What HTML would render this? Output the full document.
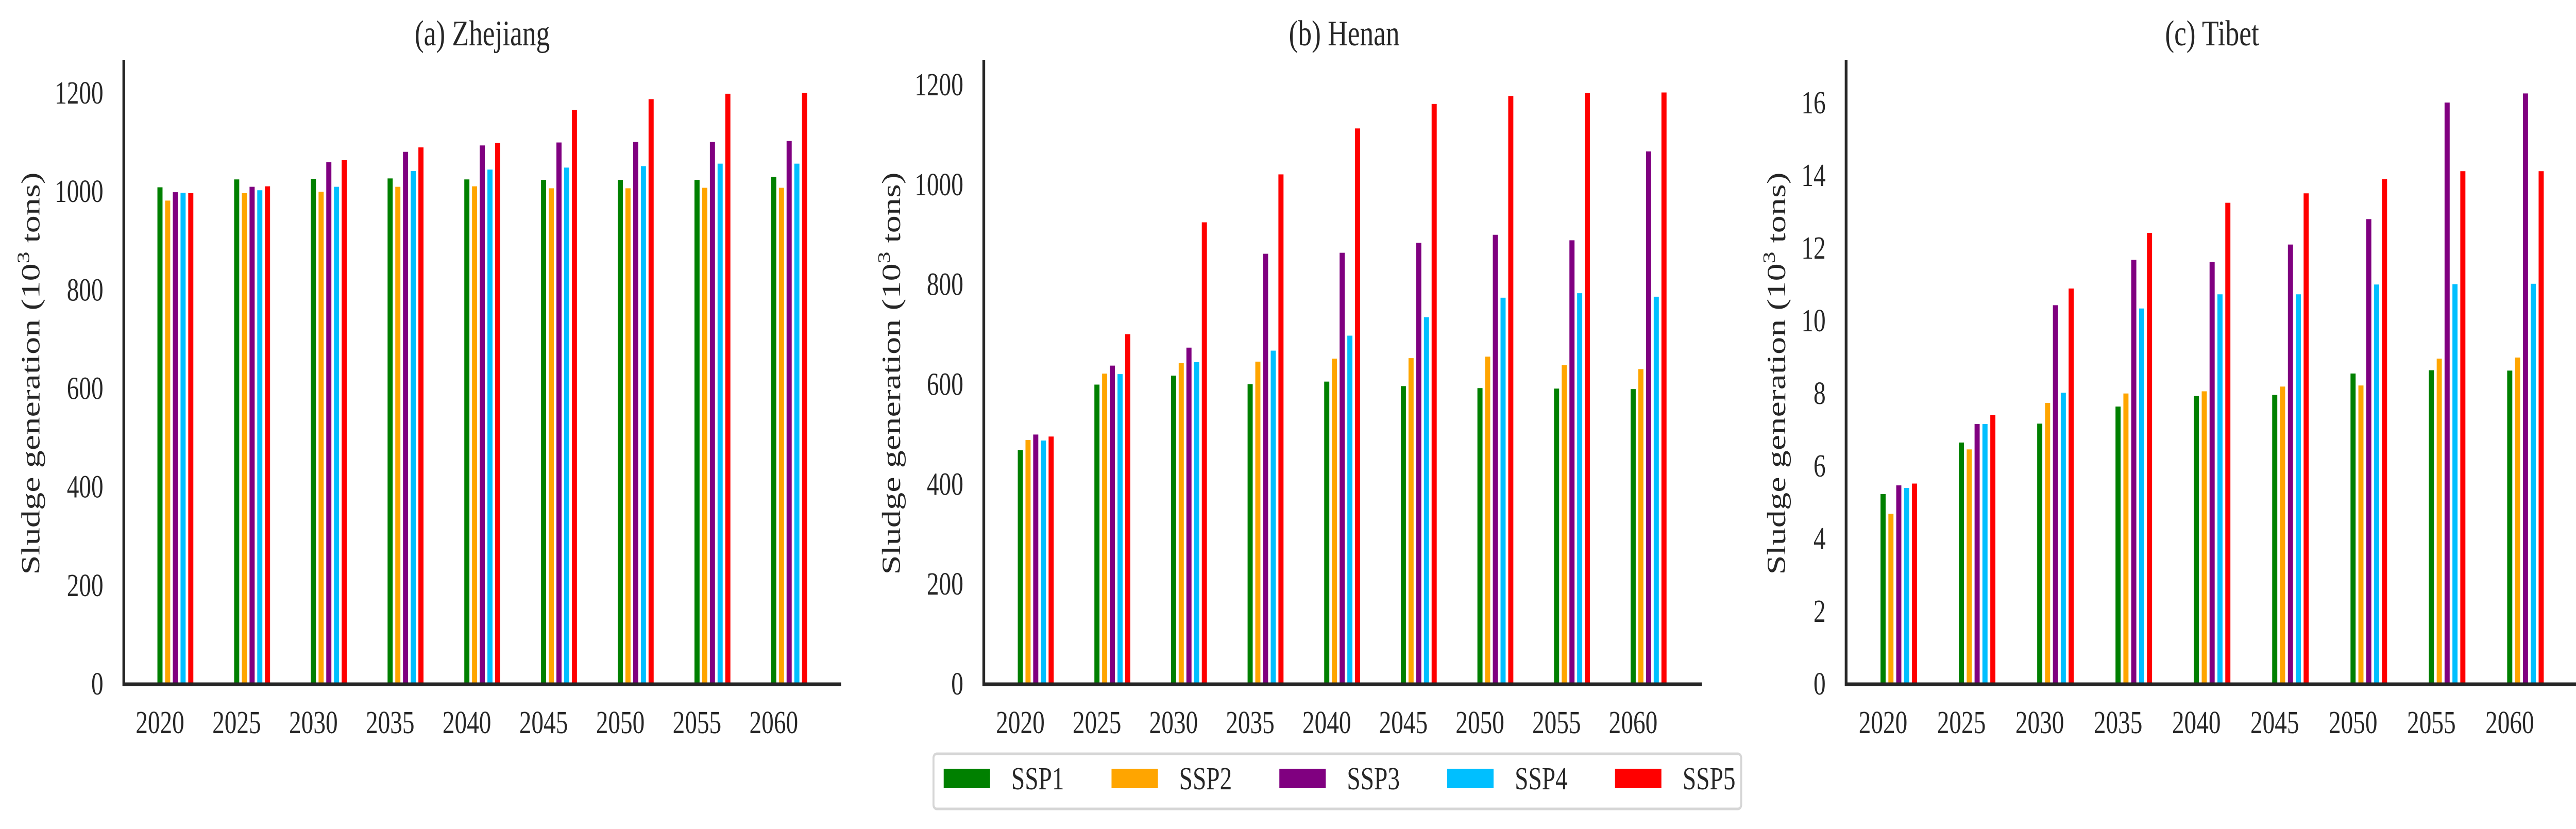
<!DOCTYPE html>
<html><head><meta charset="utf-8"><style>
html,body{margin:0;padding:0;background:#fff;width:100%;height:100%;overflow:hidden;}
svg{display:block;width:100vw;height:100vh;font-family:"Liberation Serif","DejaVu Serif",serif;}
</style></head><body>
<svg id="chart" viewBox="0 0 6554 1609" preserveAspectRatio="none" xmlns="http://www.w3.org/2000/svg"></svg>
<script>
const years = ["2020","2025","2030","2035","2040","2045","2050","2055","2060"];
const seriesNames = ["SSP1","SSP2","SSP3","SSP4","SSP5"];
const seriesColors = ["#008000","#ffa500","#800080","#00bfff","#ff0000"];
const zhejiangSSP1 = [1008,1024,1025,1026,1024,1023,1023,1023,1029];
const zhejiangSSP2 = [981,996,999,1009,1010,1006,1006,1007,1007];
const zhejiangSSP3 = [998,1009,1059,1080,1093,1099,1100,1100,1102];
const zhejiangSSP4 = [997,1002,1009,1041,1044,1048,1051,1056,1056];
const zhejiangSSP5 = [996,1010,1063,1089,1098,1165,1187,1198,1200];
const henanSSP1 = [468,599,617,600,605,596,592,591,590];
const henanSSP2 = [488,621,642,645,651,652,655,638,630];
const henanSSP3 = [499,637,673,861,863,883,899,888,1066];
const henanSSP4 = [487,620,644,667,697,734,773,782,775];
const henanSSP5 = [495,700,924,1020,1112,1161,1177,1183,1184];
const tibetSSP1 = [5.22,6.64,7.16,7.63,7.92,7.95,8.54,8.63,8.62];
const tibetSSP2 = [4.68,6.45,7.73,7.99,8.05,8.18,8.21,8.95,8.98];
const tibetSSP3 = [5.46,7.15,10.42,11.67,11.61,12.09,12.79,16.0,16.25];
const tibetSSP4 = [5.39,7.15,8.01,10.33,10.72,10.72,10.99,11.0,11.01];
const tibetSSP5 = [5.51,7.40,10.88,12.41,13.24,13.50,13.89,14.11,14.11];
const zhejiangTicks = [0,200,400,600,800,1000,1200];
const henanTicks = [0,200,400,600,800,1000,1200];
const tibetTicks = [0,2,4,6,8,10,12,14,16];

const NS="http://www.w3.org/2000/svg";
const svg=document.getElementById('chart');
function mk(tag,attrs,parent){const e=document.createElementNS(NS,tag);for(const k in attrs)e.setAttribute(k,attrs[k]);(parent||svg).appendChild(e);return e;}

const panels=[
 {key:"zhejiang",title:"(a) Zhejiang",series:[zhejiangSSP1,zhejiangSSP2,zhejiangSSP3,zhejiangSSP4,zhejiangSSP5],ticks:zhejiangTicks,ymax:1200,yTopPx:180,axisX:315,right:2140,x0:407,step:195.2,off:19.6,bw:13,ylabX:77,titleX:1227},
 {key:"henan",title:"(b) Henan",series:[henanSSP1,henanSSP2,henanSSP3,henanSSP4,henanSSP5],ticks:henanTicks,ymax:1200,yTopPx:164,axisX:2503,right:4330,x0:2596,step:194.9,off:19.6,bw:13,ylabX:2267,titleX:3420},
 {key:"tibet",title:"(c) Tibet",series:[tibetSSP1,tibetSSP2,tibetSSP3,tibetSSP4,tibetSSP5],ticks:tibetTicks,ymax:16,yTopPx:199,axisX:4697,right:6554,x0:4791,step:199.3,off:20,bw:13,ylabX:4519,titleX:5628}
];
const base=1327;
panels.forEach(p=>{
  const g=mk('g',{});
  
  
  const yScale=v=>base-(v/p.ymax)*(base-p.yTopPx);
  const xScale=(i,s)=>p.x0+i*p.step+s*p.off;
  p.series.forEach((arr,s)=>{
    arr.forEach((v,i)=>{
      const r=mk('rect',{x:xScale(i,s)-p.bw/2,y:yScale(v),width:p.bw,height:base-yScale(v),fill:seriesColors[s]},g);
      
      
    });
  });
  const ya=mk('line',{x1:p.axisX,y1:116,x2:p.axisX,y2:base+4,stroke:'#262626','stroke-width':7},g);
  
  
  const xa=mk('line',{x1:p.axisX-3,y1:base+1,x2:p.right,y2:base+1,stroke:'#262626','stroke-width':7},g);
  
  
  p.ticks.forEach(t=>{
    const tx=mk('text',{x:p.axisX-52,y:yScale(t)+21,'text-anchor':'end','font-size':62,fill:'#262626'},g);
    tx.textContent=String(t);
    
    
  });
  years.forEach((yr,i)=>{
    const tx=mk('text',{x:xScale(i,0),y:1423,'text-anchor':'middle','font-size':62,fill:'#262626'},g);
    tx.textContent=yr;
    
    
  });
  const tt=mk('text',{x:p.titleX,y:88,'text-anchor':'middle','font-size':70,fill:'#262626'},g);
  tt.textContent=p.title;
  
  
  const yl=mk('text',{x:0,y:0,'text-anchor':'middle','font-size':66,fill:'#262626',textLength:781,lengthAdjust:'spacingAndGlyphs',transform:'translate('+(p.ylabX+23)+',725) rotate(-90)'},g);
  yl.innerHTML='Sludge generation (10<tspan dy="-26" font-size="44">3</tspan><tspan dy="26"> tons)</tspan>';
  
  
});
const lg=mk('g',{});


mk('rect',{x:2375,y:1463,width:2055,height:107,rx:8,fill:'#fff',stroke:'#d6d6d6','stroke-width':5},lg);
seriesNames.forEach((n,s)=>{
  const e=mk('g',{},lg);
  
  
  mk('rect',{x:2401+s*427,y:1492,width:118,height:37,fill:seriesColors[s]},e);
  const t=mk('text',{x:2573+s*427,y:1532,'font-size':62,fill:'#262626'},e);
  t.textContent=n;
});
</script>
</body></html>
